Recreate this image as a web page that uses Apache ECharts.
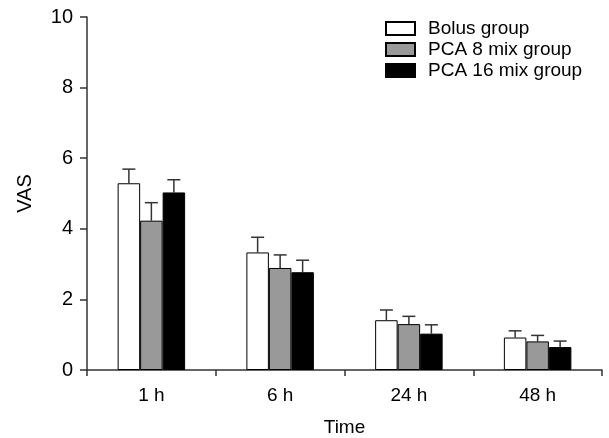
<!DOCTYPE html>
<html>
<head>
    <meta charset="utf-8" />
    <title>VAS</title>
    <script src="https://cdn.jsdelivr.net/npm/echarts@6/dist/echarts.min.js"></script>
    <style>
        html, body { margin: 0; padding: 0; background: #fff; }
        #chart { width: 609px; height: 438px; }
    </style>
</head>
<body>
    <div id="chart"></div>
    <script type="text/javascript">
        // 数据
        var times = ['1 h', '6 h', '24 h', '48 h'];
        var groupNames = ['Bolus group', 'PCA 8 mix group', 'PCA 16 mix group'];
        var bolusMean = [5.29, 3.33, 1.41, 0.92];
        var bolusUpper = [5.69, 3.76, 1.70, 1.11];
        var pca8Mean = [4.23, 2.89, 1.30, 0.81];
        var pca8Upper = [4.74, 3.26, 1.52, 0.98];
        var pca16Mean = [5.03, 2.77, 1.03, 0.65];
        var pca16Upper = [5.39, 3.11, 1.28, 0.82];
        var yTicks = [0, 2, 4, 6, 8, 10];

        var fills = ['#ffffff', '#999999', '#000000'];
        var means = [bolusMean, pca8Mean, pca16Mean];
        var uppers = [bolusUpper, pca8Upper, pca16Upper];
        var barW = 22.5;
        var font = 'Liberation Sans, Arial, sans-serif';

        var series = [];
        for (var s = 0; s < 3; s++) {
            series.push({
                name: groupNames[s],
                type: 'bar',
                barWidth: barW,
                barGap: '0%',
                itemStyle: { color: fills[s], borderColor: '#000', borderWidth: 1 },
                data: means[s],
                z: 2
            });
        }
        // 误差线
        for (var s = 0; s < 3; s++) {
            (function(idx) {
                var d = [];
                for (var i = 0; i < times.length; i++) d.push([i, means[idx][i], uppers[idx][i]]);
                series.push({
                    type: 'custom',
                    name: 'err' + idx,
                    data: d,
                    z: 1,
                    encode: { x: 0, y: [1, 2] },
                    renderItem: function(params, api) {
                        var base = api.coord([api.value(0), api.value(1)]);
                        var top = api.coord([api.value(0), api.value(2)]);
                        var x = base[0] + (idx - 1) * barW;
                        var half = 6.5;
                        var st = { stroke: '#333', lineWidth: 1.5 };
                        return {
                            type: 'group',
                            children: [
                                { type: 'line', shape: { x1: x, y1: base[1], x2: x, y2: top[1] }, style: st },
                                { type: 'line', shape: { x1: x - half, y1: top[1], x2: x + half, y2: top[1] }, style: st }
                            ]
                        };
                    }
                });
            })(s);
        }

        var myChart = echarts.init(document.getElementById('chart'));
        myChart.setOption({
            animation: false,
            textStyle: { fontFamily: font },
            grid: { left: 87, right: 7, top: 17, bottom: 68, containLabel: false, outerBoundsMode: 'none' },
            legend: {
                data: groupNames,
                orient: 'vertical',
                left: 380,
                top: 14,
                itemWidth: 29,
                itemHeight: 13,
                itemGap: 2,
                icon: 'rect',
                textStyle: { fontSize: 19, color: '#000', fontFamily: font, padding: [0, 0, 0, 8] }
            },
            xAxis: {
                type: 'category',
                data: times,
                name: 'Time',
                nameLocation: 'middle',
                nameGap: 48,
                nameTextStyle: { fontSize: 19, color: '#000', fontFamily: font },
                axisLine: { lineStyle: { color: '#333', width: 1.5 } },
                axisTick: { show: true, length: 6, lineStyle: { color: '#333', width: 1.5 } },
                axisLabel: { fontSize: 19, color: '#000', margin: 16, fontFamily: font }
            },
            yAxis: {
                type: 'value',
                min: 0,
                max: 10,
                interval: 2,
                name: 'VAS',
                nameLocation: 'middle',
                nameGap: 52,
                nameTextStyle: { fontSize: 20, color: '#000', fontFamily: font },
                splitLine: { show: false },
                axisLine: { show: true, lineStyle: { color: '#333', width: 1.5 } },
                axisTick: { show: true, length: 7, lineStyle: { color: '#333', width: 1.5 } },
                axisLabel: {
                    fontSize: 20, color: '#000', margin: 14, fontFamily: font,
                    formatter: function(v) { return yTicks.indexOf(v) >= 0 ? String(v) : ''; }
                }
            },
            series: series
        });
    </script>
</body>
</html>
